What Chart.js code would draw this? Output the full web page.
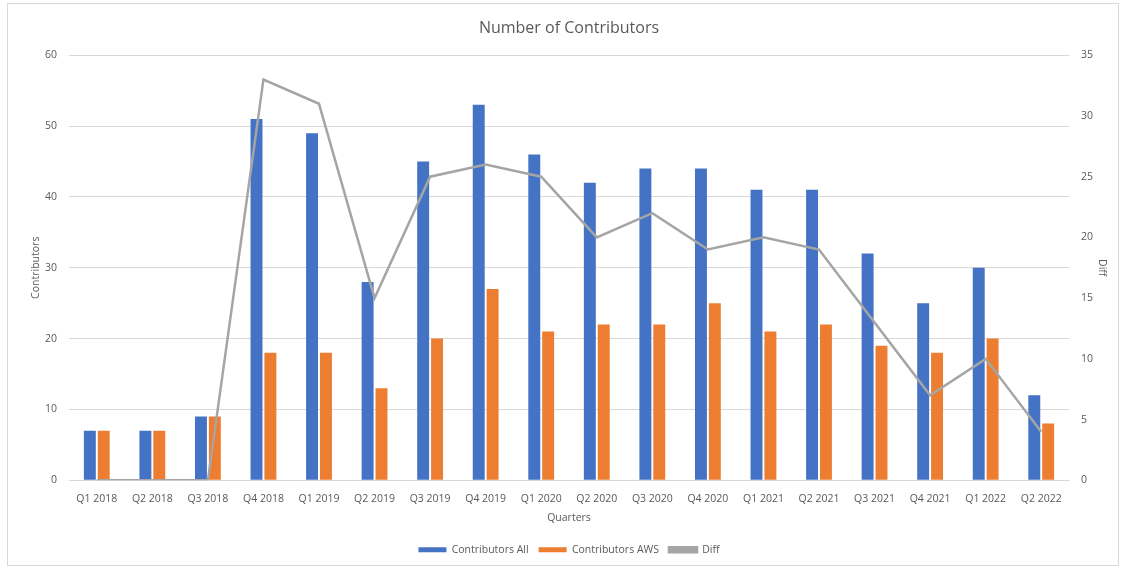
<!DOCTYPE html>
<html><head><meta charset="utf-8">
<script src="https://cdn.jsdelivr.net/npm/chart.js@4.4.1/dist/chart.umd.min.js"></script>
<style>
html,body{margin:0;padding:0;background:#fff;}
#wrap{position:absolute;left:7px;top:3px;width:1112px;height:563px;border:1px solid #d9d9d9;box-sizing:border-box;}
#c{position:absolute;left:0;top:0;}
</style></head>
<body>
<div id="wrap"><canvas id="c" width="1112" height="563"></canvas></div>
<script>
const categories = ["Q1 2018","Q2 2018","Q3 2018","Q4 2018","Q1 2019","Q2 2019","Q3 2019","Q4 2019","Q1 2020","Q2 2020","Q3 2020","Q4 2020","Q1 2021","Q2 2021","Q3 2021","Q4 2021","Q1 2022","Q2 2022"];
const contributorsAll = [7,7,9,51,49,28,45,53,46,42,44,44,41,41,32,25,30,12];
const contributorsAWS = [7,7,9,18,18,13,20,27,21,22,22,25,21,22,19,18,20,8];
const diff = [0,0,0,33,31,15,25,26,25,20,22,19,20,19,13,7,10,4];

const txt = '#595959';
const font = {family:"'Open Sans','Noto Sans',sans-serif", size:10.5};
new Chart(document.getElementById('c'), {
  data: {
    labels: categories,
    datasets: [
      {type:'bar', label:'Contributors All', data:contributorsAll, yAxisID:'y', backgroundColor:'#4472c4', categoryPercentage:0.5, barPercentage:0.86, order:1},
      {type:'bar', label:'Contributors AWS', data:contributorsAWS, yAxisID:'y', backgroundColor:'#ed7d31', categoryPercentage:0.5, barPercentage:0.86, order:2},
      {type:'line', label:'Diff', data:diff, yAxisID:'y1', borderColor:'#a5a5a5', backgroundColor:'#a5a5a5', borderWidth:2.5, pointRadius:0, tension:0, order:0}
    ]
  },
  options: {
    responsive:false, animation:false,
    layout:{padding:{left:18,right:8,top:8,bottom:2}},
    plugins:{
      title:{display:true, text:'Number of Contributors', color:txt, font:{family:font.family,size:16,weight:'normal'}, padding:{top:7,bottom:17}},
      legend:{position:'bottom', labels:{color:txt, font:font, boxWidth:28, boxHeight:5, padding:10,
        sort:(a,b)=>a.datasetIndex-b.datasetIndex}},
      tooltip:{enabled:false}
    },
    scales:{
      x:{grid:{display:false}, border:{display:true,color:'#d9d9d9'}, ticks:{color:txt,font:font,maxRotation:0,padding:4},
        title:{display:true,text:'Quarters',color:txt,font:font,padding:{top:3,bottom:10}}},
      y:{position:'left', min:0, max:60, ticks:{stepSize:10,color:txt,font:font,padding:12}, grid:{color:'#d9d9d9',drawTicks:false}, border:{display:false},
        title:{display:true,text:'Contributors',color:txt,font:font,padding:{bottom:4}},
        afterFit:s=>{s.width=43;}},
      y1:{position:'right', min:0, max:35, ticks:{stepSize:5,color:txt,font:font,padding:12}, grid:{display:false,drawTicks:false}, border:{display:false},
        title:{display:true,text:'Diff',color:txt,font:font,padding:{top:4}},
        afterFit:s=>{s.width=43;}}
    }
  }
});
</script>
</body></html>
